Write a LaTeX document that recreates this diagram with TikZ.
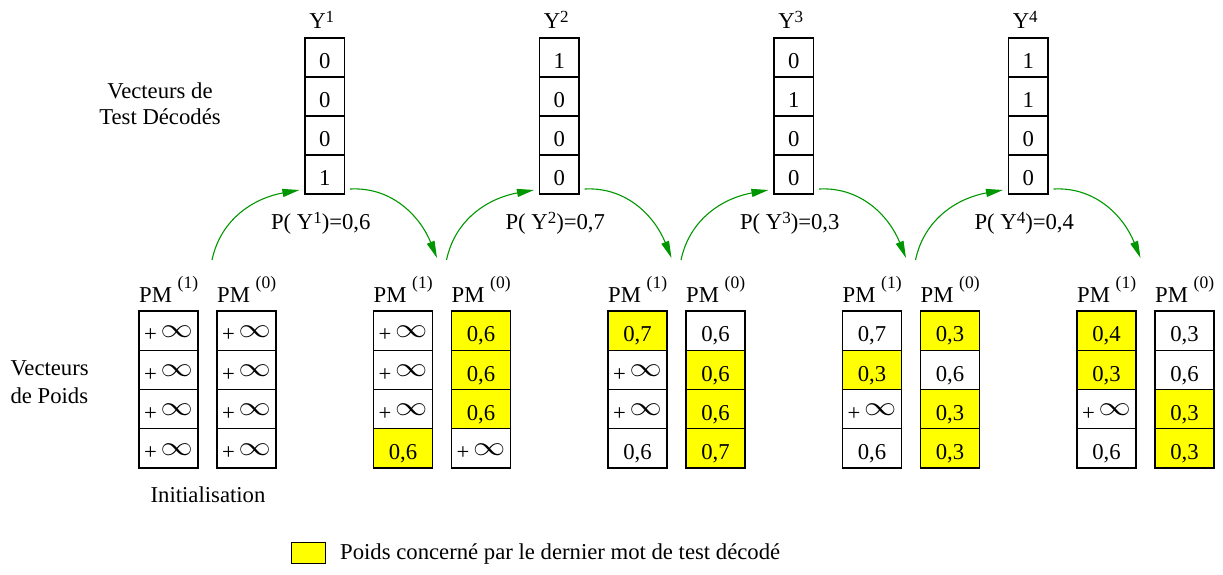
\documentclass[tikz,border=0pt]{standalone}
\usepackage{fontspec}
\setmainfont{Liberation Serif}
\usepackage{graphicx}
\usetikzlibrary{arrows.meta}
\definecolor{arrowgreen}{RGB}{0,150,0}
\definecolor{markyellow}{RGB}{255,255,0}
% raised exponents for Y^k and PM^(b)
\newcommand\supx[1]{\raisebox{6pt}{\fontsize{17}{17}\selectfont #1}}
\newcommand\pmsup[1]{\raisebox{14pt}{\fontsize{17.5}{17.5}\selectfont #1}}
\newcommand\plusinf{+\,\raisebox{4.5pt}{\scalebox{1.55}[1.3]{$\infty$}}}
% one column of four weight cells: name, left x, entries text/style
\newcommand\pmcolumn[3]{%
  \foreach \txt/\sty [count=\r] in {#3} {
    \node[cell,\sty] (#1-\r) at ({#2+29.5},{311+39.25*(\r-0.5)}) {\txt};
  }%
}
\begin{document}
\begin{tikzpicture}[x=1pt,y=-1pt,
  font=\fontsize{22.7}{26}\selectfont,
  cell/.style={draw, line width=1.1pt, minimum width=59pt, minimum height=39.25pt,
    inner sep=0pt, text height=22.4pt, text depth=0pt},
  ycell/.style={cell, minimum width=39.5pt, minimum height=39pt, text height=21pt},
  hit/.style={fill=markyellow},
  plain/.style={},
  flow/.style={draw=arrowgreen, line width=1.1pt, -{Triangle[length=17pt,width=8pt]}}]
\useasboundingbox (0,0) rectangle (1223,574);

% side captions
\node[align=center, anchor=base] (captest) at (160,124) {Vecteurs de\\Test Décodés};
\node[align=left, anchor=base west, font=\fontsize{22.7}{28}\selectfont] (cappoids) at (7,403) {Vecteurs\\de Poids};

% weight vectors PM(1) / PM(0)
\pmcolumn{a1}{139}{\plusinf/plain,\plusinf/plain,\plusinf/plain,\plusinf/plain}
\pmcolumn{b1}{217}{\plusinf/plain,\plusinf/plain,\plusinf/plain,\plusinf/plain}
\pmcolumn{a2}{373.5}{\plusinf/plain,\plusinf/plain,\plusinf/plain,0{,}6/hit}
\pmcolumn{b2}{451.5}{0{,}6/hit,0{,}6/hit,0{,}6/hit,\plusinf/plain}
\pmcolumn{a3}{608}{0{,}7/hit,\plusinf/plain,\plusinf/plain,0{,}6/plain}
\pmcolumn{b3}{686}{0{,}6/plain,0{,}6/hit,0{,}6/hit,0{,}7/hit}
\pmcolumn{a4}{842.5}{0{,}7/plain,0{,}3/hit,\plusinf/plain,0{,}6/plain}
\pmcolumn{b4}{920.5}{0{,}3/hit,0{,}6/plain,0{,}3/hit,0{,}3/hit}
\pmcolumn{a5}{1077}{0{,}4/hit,0{,}3/hit,\plusinf/plain,0{,}6/plain}
\pmcolumn{b5}{1155}{0{,}3/plain,0{,}6/plain,0{,}3/hit,0{,}3/hit}

% column headings and arrow anchors above each weight pair
\foreach \g/\L in {1/139,2/373.5,3/608,4/842.5,5/1077} {
  \node[anchor=base west, inner sep=0pt] (ha\g) at (\L,302) {PM \pmsup{(1)}};
  \node[anchor=base west, inner sep=0pt] (hb\g) at (\L+78,302) {PM \pmsup{(0)}};
  \coordinate (src\g) at (\L+73,260);
  \coordinate (dst\g) at (\L+63.5,258);
}

\node[anchor=base] (init) at (208,502) {Initialisation};

% decoded test vectors Y^k with their probabilities
\foreach \k/\cx/\a/\b/\c/\d/\p in {1/324.75/0/0/0/1/6, 2/559.25/1/0/0/0/7,
                                   3/793.75/0/1/0/0/3, 4/1028.25/1/1/0/0/4} {
  \foreach \v [count=\r] in {\a,\b,\c,\d}
    \node[ycell] (y\k-\r) at (\cx,{38+39*(\r-0.5)}) {\v};
  \node[anchor=base] (yl\k) at (\cx-3,28) {Y\supx{\k}};
  \node[anchor=base] (pl\k) at (\cx-4,229) {P( Y\supx{\k})=0,\p};
}

% transitions: weights -> decoded vector -> updated weights
\foreach \k [evaluate=\k as \n using int(\k+1)] in {1,2,3,4} {
  \draw[flow] (src\k) to[out=78,in=190] ([xshift=-5pt,yshift=-15.5pt]y\k-4.west);
  \draw[flow] ([xshift=5pt,yshift=-14.5pt]y\k-4.east) to[out=3,in=112] (dst\n);
}

% legend
\node[draw, line width=1pt, fill=markyellow, minimum width=34pt, minimum height=21pt,
  inner sep=0pt] (key) at (308,552.5) {};
\node[anchor=base west, inner sep=0pt] (keytext) at (340,559)
  {Poids concerné par le dernier mot de test décodé};
\end{tikzpicture}
\end{document}
